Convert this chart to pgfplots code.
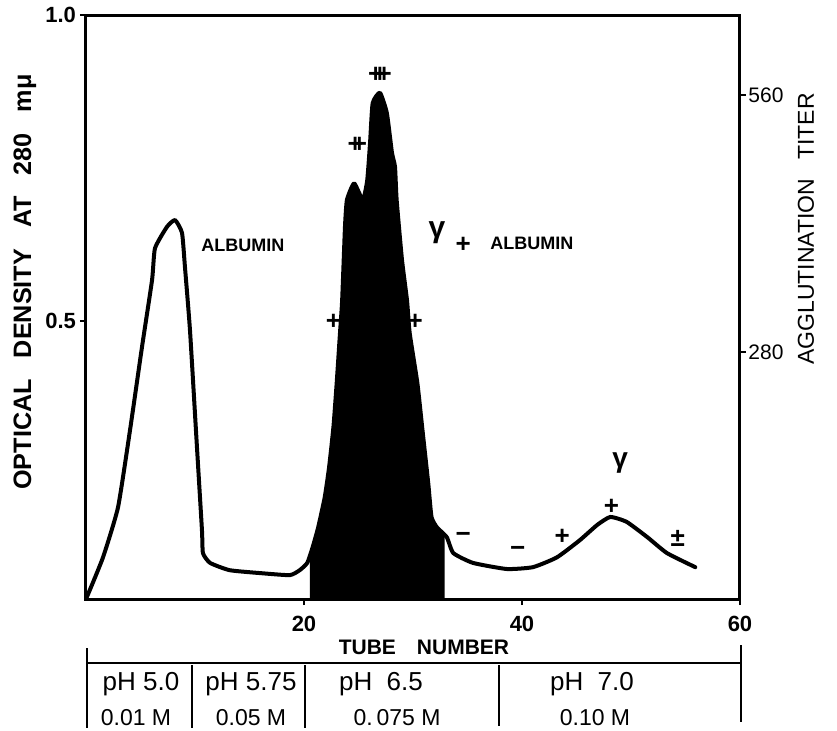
\documentclass[border=0pt]{standalone}
\usepackage{pgfplots}
\pgfplotsset{compat=1.18}
\usepackage{fontspec}
\setmainfont{Liberation Sans}
\newcommand{\PX}[2]{({(#1-86)*0.5},{(599-#2)*0.5})}
\newcommand{\pp}{+\kern-0.42em+}
\newcommand{\ppp}{+\kern-0.42em+\kern-0.42em+}
\begin{document}
\begin{tikzpicture}[x=1pt,y=1pt]
\begin{axis}[
  at={(0,0)}, anchor=south west,
  scale only axis, width=327pt, height=292pt,
  xmin=0, xmax=60, ymin=0.046, ymax=1.0,
  axis line style={line width=1.5pt},
  tick style={line width=1.2pt, black},
  tick align=outside, tick pos=left,
  major tick length=3pt,
  xtick={20,40,60}, ytick={0.5,1.0},
  xticklabels={20,40,60}, yticklabels={0.5,1.0},
  ticklabel style={font=\fontsize{11}{12}\selectfont\bfseries},
  xticklabel style={yshift=-2pt},
  yticklabel style={xshift=1.5pt},
  clip=false,
]
% shaded gamma + albumin fraction
\addplot[fill=black, draw=none] coordinates {
(20.55,0.046) (20.55,0.118) (20.8,0.131) (21.3,0.163) (21.9,0.212) (22.3,0.261)
(22.7,0.327) (23.0,0.399) (23.3,0.480) (23.5,0.534) (23.76,0.654) (23.94,0.698)
(24.6,0.725) (25.4,0.698) (25.8,0.730) (26.06,0.791) (26.3,0.856) (26.97,0.873)
(27.6,0.840) (28.07,0.775) (28.35,0.752) (28.5,0.698) (28.99,0.600) (29.45,0.534)
(29.7,0.480) (30.4,0.399) (30.9,0.317) (31.4,0.235) (31.7,0.180) (32.2,0.163)
(32.9,0.151) (32.9,0.046)} -- cycle;
% elution curve
\addplot[black, line width=2pt, line join=round, line cap=round, smooth, tension=0.3] coordinates {
(0.1,0.050) (1.56,0.114) (2.94,0.196) (4.04,0.322) (5.14,0.458) (6.06,0.567)
(6.33,0.619) (7.43,0.654) (8.17,0.665) (8.81,0.644) (9.08,0.588) (9.54,0.485)
(10.18,0.294) (10.64,0.158) (10.73,0.121) (11.38,0.105) (13.2,0.093) (16.2,0.088)
(18.7,0.085) (19.6,0.093) (20.3,0.105) (20.8,0.131) (21.3,0.163) (21.9,0.212)
(22.3,0.261) (22.7,0.327) (23.0,0.399) (23.3,0.480) (23.5,0.534) (23.76,0.654)
(23.94,0.698) (24.6,0.725) (25.4,0.698) (25.8,0.730) (26.06,0.791) (26.3,0.856)
(26.97,0.873) (27.6,0.840) (28.07,0.775) (28.35,0.752) (28.5,0.698) (28.99,0.600)
(29.45,0.534) (29.7,0.480) (30.4,0.399) (30.9,0.317) (31.4,0.235) (31.7,0.180)
(32.2,0.163) (33.1,0.147) (33.7,0.121) (35.5,0.105) (38.6,0.095) (41.0,0.098)
(43.2,0.114) (45.3,0.142) (46.9,0.167) (48.1,0.180) (49.6,0.172) (51.5,0.147)
(53.3,0.121) (55.9,0.098)};
% annotations
\begin{scope}[every node/.style={font=\fontsize{13}{13}\selectfont\bfseries, inner sep=0pt}]
\node at (axis cs:14.4,0.624) {\fontsize{9}{10}\selectfont ALBUMIN};
\node at (axis cs:26.97,0.902) {\ppp};
\node at (axis cs:24.9,0.788) {\pp};
\node at (axis cs:22.7,0.498) {+};
\node at (axis cs:30.2,0.498) {+};
\node at (axis cs:32.2,0.644) {\fontsize{15}{15}\selectfont γ};
\node at (axis cs:34.6,0.624) {+};
\node at (axis cs:40.9,0.627) {\fontsize{9}{10}\selectfont ALBUMIN};
\node at (axis cs:34.6,0.147) {−};
\node at (axis cs:39.6,0.124) {−};
\node at (axis cs:43.7,0.147) {+};
\node at (axis cs:48.2,0.196) {+};
\node at (axis cs:54.3,0.145) {±};
\node at (axis cs:49.0,0.268) {\fontsize{14}{14}\selectfont γ};
\end{scope}
\end{axis}
\begin{axis}[
  at={(0,0)}, anchor=south west,
  scale only axis, width=327pt, height=292pt,
  xmin=0, xmax=60, ymin=11, ymax=647,
  axis x line=none, axis y line*=right,
  axis line style={line width=1.5pt},
  tick style={line width=1.2pt, black},
  tick align=outside, major tick length=3pt,
  ytick={280,560}, yticklabels={280,560},
  ticklabel style={font=\fontsize{10.5}{12}\selectfont, inner sep=1pt},
]
\addplot[draw=none] coordinates {(0,280)};
\end{axis}
% axis titles
\node[rotate=90, font=\fontsize{12.6}{13}\selectfont\bfseries] at \PX{25}{282} {OPTICAL\ \ \ DENSITY\ \ \ AT\ \ \ 280\ \ \ mμ};
\node[rotate=90, font=\fontsize{11.5}{12}\selectfont] at \PX{806}{229} {AGGLUTINATION\ \ \ TITER};
\node[font=\fontsize{10.5}{11}\selectfont\bfseries] at \PX{424}{647} {TUBE\quad NUMBER};
% buffer table
\begin{scope}[line width=1.2pt]
\draw \PX{87}{663} -- \PX{741}{663};
\draw \PX{87}{648} -- \PX{87}{728};
\draw \PX{741}{645} -- \PX{741}{722};
\draw \PX{192}{665} -- \PX{192}{728};
\draw \PX{305}{665} -- \PX{305}{728};
\draw \PX{499}{665} -- \PX{499}{726};
\end{scope}
\begin{scope}[every node/.style={font=\fontsize{13}{14}\selectfont, inner sep=0pt}]
\node at \PX{141}{684} {pH 5.0};
\node at \PX{251}{684} {pH 5.75};
\node at \PX{381}{684} {pH\ \ 6.5};
\node at \PX{592}{684} {pH\ \ 7.0};
\end{scope}
\begin{scope}[every node/.style={font=\fontsize{11.5}{12}\selectfont, inner sep=0pt}]
\node at \PX{136}{718} {0.01 M};
\node at \PX{251}{718} {0.05 M};
\node at \PX{397}{718} {0.\,075 M};
\node at \PX{595}{718} {0.10 M};
\end{scope}
\pgfresetboundingbox
\useasboundingbox \PX{0}{0} rectangle \PX{837}{730};
\end{tikzpicture}
\end{document}
